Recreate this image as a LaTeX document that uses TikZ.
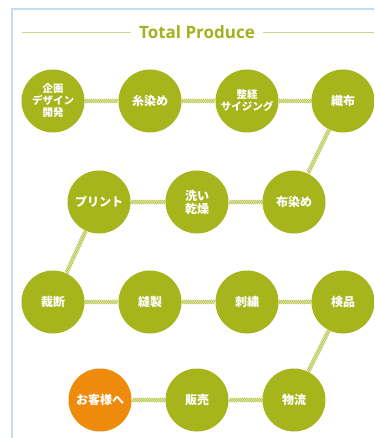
\documentclass[tikz,border=0pt]{standalone}
\usepackage{fontspec}
\usetikzlibrary{decorations.markings}
\newfontfamily\jpfont{Noto Sans CJK JP}
\newfontfamily\titlefont{Open Sans}
\definecolor{StepClr}{HTML}{A7B51D}
\definecolor{LastClr}{HTML}{EE8A0C}
\definecolor{RopeClr}{HTML}{B4C240}
\definecolor{RopeBg}{HTML}{F2F5DC}
\definecolor{FrameClr}{HTML}{C4DCF2}
\definecolor{TitleClr}{HTML}{A2B21E}
\definecolor{TitleLine}{HTML}{CCD78A}

\tikzset{
  stepnode/.style={circle,fill=StepClr,minimum size=63pt,inner sep=0pt,
    text=white,align=center,font=\jpfont\bfseries\fontsize{12}{13}\selectfont},
  smalltext/.style={font=\jpfont\bfseries\fontsize{10.5}{12}\selectfont},
  lastnode/.style={stepnode,fill=LastClr},
  rope/.style={line width=4.5pt,draw=RopeBg,
    postaction={decorate,decoration={markings,
      mark=between positions 0 and 1 step 1.9pt with
        {\draw[RopeClr,line width=0.8pt] (-1.3pt,-2.1pt) -- (1.3pt,2.1pt);}}}}
}

\begin{document}
\begin{tikzpicture}[x=1pt,y=-1pt]
\useasboundingbox (0,0) rectangle (374,438);
\clip (0,0) rectangle (374,438);
\fill[white] (0,0) rectangle (374,438);

\draw[FrameClr,line width=2pt] (12,9) rectangle (420,480);

\node[text=TitleClr,font=\titlefont\bfseries\fontsize{17}{19}\selectfont,
      inner xsep=8pt] (title) at (197,32) {Total Produce};
\coordinate (tl) at (22,32);
\coordinate (tr) at (374,32);
\draw[TitleLine,line width=0.9pt] (tl) -- (title.west);
\draw[TitleLine,line width=0.9pt] (title.east) -- (tr);

% row 1
\node[stepnode,smalltext] (plan) at (53,101) {企画\\デザイン\\開発};
\node[stepnode] (yarn) at (150,101) {糸染め};
\node[stepnode,smalltext] (warp) at (247,101) {整経\\サイジング};
\node[stepnode] (weave) at (343,101) {織布};

% row 2
\node[stepnode] (print) at (99,202) {プリント};
\node[stepnode] (wash) at (197,202) {洗い\\乾燥};
\node[stepnode] (dye) at (294,202) {布染め};

% row 3
\node[stepnode] (cut) at (53,302) {裁断};
\node[stepnode] (sew) at (150,302) {縫製};
\node[stepnode] (embr) at (247,302) {刺繍};
\node[stepnode] (check) at (343,302) {検品};

% row 4
\node[lastnode] (cust) at (100,400) {お客様へ};
\node[stepnode] (sale) at (197,400) {販売};
\node[stepnode] (ship) at (294,400) {物流};

\draw[rope] (plan) -- (yarn);
\draw[rope] (yarn) -- (warp);
\draw[rope] (warp) -- (weave);
\draw[rope] (weave) -- (dye);
\draw[rope] (dye) -- (wash);
\draw[rope] (wash) -- (print);
\draw[rope] (print) -- (cut);
\draw[rope] (cut) -- (sew);
\draw[rope] (sew) -- (embr);
\draw[rope] (embr) -- (check);
\draw[rope] (check) -- (ship);
\draw[rope] (ship) -- (sale);
\draw[rope] (sale) -- (cust);

\end{tikzpicture}
\end{document}
